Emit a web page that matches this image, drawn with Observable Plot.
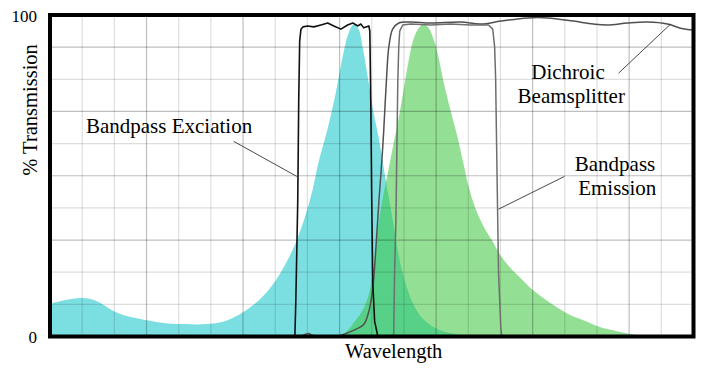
<!DOCTYPE html>
<html>
<head>
<meta charset="utf-8">
<script src="https://cdn.jsdelivr.net/npm/d3@7"></script>
<script src="https://cdn.jsdelivr.net/npm/@observablehq/plot@0.6"></script>
<style>
  html, body { margin: 0; padding: 0; background: #ffffff; }
  #chart svg { display: block; }
</style>
</head>
<body>
<div id="chart"></div>
<script>
// x: wavelength in grid divisions (0..20), y: % transmission (0..100)

// Excitation spectrum (cyan fill)
const excitationX = [0, 0.5, 0.96, 1.27, 1.58, 2.05, 2.52, 2.98, 3.6, 4.22, 4.84, 5.47, 5.99, 6.55, 7.02, 7.42, 7.7, 7.95, 8.17, 8.35, 8.63, 8.88, 9.1, 9.27, 9.45, 9.6, 9.74, 9.91, 10.06, 10.22, 10.43, 10.59, 10.75, 10.9, 11.09, 11.3, 11.58, 11.99, 12.45, 13.07];
const excitationY = [10, 11.2, 11.8, 11.5, 10.3, 7.5, 5.9, 5, 4, 3.7, 3.7, 4.7, 7.2, 11.5, 17.1, 24, 30.2, 37.4, 45.2, 53.6, 63.9, 74.8, 86.3, 93.5, 96.9, 95.6, 89.4, 79.4, 70.1, 62.3, 49.8, 40.5, 31.2, 22.7, 15.6, 10, 5.6, 2.5, 0.9, 0];

// Emission spectrum (green fill)
const emissionX = [9.04, 9.25, 9.5, 9.72, 9.91, 10.03, 10.12, 10.22, 10.37, 10.53, 10.68, 10.84, 11, 11.15, 11.3, 11.46, 11.61, 11.77, 11.93, 12.08, 12.24, 12.45, 12.67, 12.86, 13.02, 13.23, 13.48, 13.76, 14.01, 14.32, 14.63, 14.94, 15.25, 15.71, 16.18, 16.65, 17.11, 17.58, 18.04, 18.51];
const emissionY = [0, 1.6, 4.7, 7.8, 12.5, 18.7, 25.5, 34.3, 43.6, 51.4, 59.2, 67, 76.3, 85, 91.9, 95.6, 96.9, 96, 92.5, 87.2, 79.4, 70.7, 62.3, 53.9, 46.7, 39.9, 34.3, 29.6, 25.2, 21.2, 18.1, 15, 12.5, 9.3, 6.5, 4.7, 2.8, 1.6, 0.6, 0];

// Bandpass excitation filter (black line)
const exFilterX = [6.86, 7.33, 7.61, 7.64, 7.7, 7.73, 7.76, 7.8, 7.86, 8.01, 8.2, 8.42, 8.63, 8.82, 9.04, 9.25, 9.41, 9.57, 9.66, 9.75, 9.91, 9.94, 9.97, 10.0, 10.03, 10.09, 10.19, 10.75];
const exFilterY = [0, 0, 0, 10.9, 42.1, 73.2, 91.9, 95.6, 96.3, 96.6, 96.3, 96.9, 97.5, 96.6, 95.6, 96.9, 97.5, 96.6, 97.2, 96.0, 96.6, 95.0, 73.2, 42.1, 17.1, 4.7, 0, 0];

// Dichroic beamsplitter (dark grey line)
const dichroicX = [7.17, 7.8, 7.92, 8.04, 8.17, 8.35, 8.88, 9.19, 9.5, 9.75, 9.91, 10.03, 10.12, 10.22, 10.31, 10.37, 10.47, 10.53, 10.65, 10.84, 11.21, 11.83, 12.76, 13.39, 14.01, 14.84, 15.47, 16.27, 16.89, 17.33, 17.95, 18.57, 19.19, 19.6, 20.0];
const dichroicY = [0, 0, 0.6, 0.9, 0.3, 0, 0, 0.9, 2.2, 3.7, 7.8, 14.9, 26.2, 41.7, 54.2, 63.6, 82.2, 90.0, 95.6, 97.5, 97.8, 97.5, 97.8, 97.2, 98.1, 99.1, 99.1, 98.1, 97.2, 96.9, 97.5, 97.8, 97.2, 95.9, 95.3];

// Bandpass emission filter (grey line)
const emFilterX = [10.28, 10.68, 10.71, 10.75, 10.78, 10.81, 10.84, 10.87, 10.96, 11.21, 11.83, 12.45, 13.07, 13.63, 13.76, 13.82, 13.85, 13.88, 13.91, 13.94, 14.01, 14.04, 14.47];
const emFilterY = [0, 0, 20.2, 35.8, 57.6, 79.4, 90.3, 95.0, 96.9, 97.2, 96.9, 97.2, 96.9, 96.9, 95.6, 90.0, 80.4, 60, 40, 20, 3, 0, 0];

// Grid and tick labels
const gridXMinor = [1, 2, 4, 5, 7, 8, 10, 11, 13, 14, 16, 17, 19];
const gridXMajor = [3, 6, 9, 12, 15, 18];
const gridYMinor = [10, 20, 40, 60, 80];
const gridYMajor = [30, 50, 70, 90];
const yTickValues = [0, 100];
const yTickLabels = ["0", "100"];

// Annotations
const annotationText = ["Bandpass Exciation", "Dichroic", "Beamsplitter", "Bandpass", "Emission"];
const annotationX = [3.70, 16.10, 16.20, 17.56, 17.63];
const annotationY = [65.4, 82.1, 74.8, 53.5, 46.1];
const leaderX1 = [5.71, 17.67, 15.99];
const leaderY1 = [60.7, 81.9, 49.8];
const leaderX2 = [7.67, 19.29, 13.94];
const leaderY2 = [49.8, 97.2, 39.6];

const xLabel = "Wavelength";
const xLabelX = 10.68;
const yLabel = "% Transmission";

const toRows = (xs, ys) => xs.map((x, i) => ({x, y: ys[i]}));
const excitation = toRows(excitationX, excitationY);
const emission = toRows(emissionX, emissionY);
const exFilter = toRows(exFilterX, exFilterY);
const dichroic = toRows(dichroicX, dichroicY);
const emFilter = toRows(emFilterX, emFilterY);
const annotations = annotationText.map((t, i) => ({t, x: annotationX[i], y: annotationY[i]}));
const leaders = leaderX1.map((x1, i) => ({x1, y1: leaderY1[i], x2: leaderX2[i], y2: leaderY2[i]}));
const yTicks = yTickValues.map((v, i) => ({v, label: yTickLabels[i]}));

const font = "Liberation Serif";

const chart = Plot.plot({
  width: 722,
  height: 373,
  marginLeft: 49.5,
  marginRight: 29,
  marginTop: 14.5,
  marginBottom: 37,
  x: {domain: [0, 20], axis: null},
  y: {domain: [0, 100], axis: null},
  style: {background: "white", color: "black"},
  marks: [
    Plot.areaY(excitation, {x: "x", y: "y", fill: "#7bdfe2", curve: "catmull-rom"}),
    Plot.areaY(emission, {x: "x", y: "y", fill: "#3bc53c", fillOpacity: 0.55, curve: "catmull-rom"}),
    Plot.ruleX(gridXMinor, {stroke: "black", strokeOpacity: 0.13, strokeWidth: 1.2}),
    Plot.ruleY(gridYMinor, {stroke: "black", strokeOpacity: 0.13, strokeWidth: 1.2}),
    Plot.ruleX(gridXMajor, {stroke: "black", strokeOpacity: 0.25, strokeWidth: 1.2}),
    Plot.ruleY(gridYMajor, {stroke: "black", strokeOpacity: 0.25, strokeWidth: 1.2}),
    Plot.line(dichroic, {x: "x", y: "y", stroke: "#505050", strokeWidth: 1.5, curve: "catmull-rom"}),
    Plot.line(emFilter, {x: "x", y: "y", stroke: "#6e6e6e", strokeWidth: 1.5, curve: "linear"}),
    Plot.line(exFilter, {x: "x", y: "y", stroke: "#111111", strokeWidth: 1.6, curve: "linear"}),
    Plot.link(leaders, {x1: "x1", y1: "y1", x2: "x2", y2: "y2", stroke: "#333333", strokeWidth: 0.9}),
    Plot.text(annotations, {x: "x", y: "y", text: "t", fontFamily: font, fontSize: 21, fill: "black", textAnchor: "middle"}),
    Plot.text(yTicks, {y: "v", text: "label", frameAnchor: "left", textAnchor: "end", dx: -13, dy: 1.5, fontFamily: font, fontSize: 17, fill: "black"}),
    Plot.text([xLabel], {x: xLabelX, frameAnchor: "bottom", text: d => d, dy: 21, fontFamily: font, fontSize: 20.5, fill: "black"}),
    Plot.text([yLabel], {y: 50, frameAnchor: "left", text: d => d, rotate: -90, dx: -20, fontFamily: font, fontSize: 20.5, fill: "black"}),
    Plot.frame({stroke: "black", strokeWidth: 4})
  ]
});

document.getElementById("chart").appendChild(chart);
</script>
</body>
</html>
